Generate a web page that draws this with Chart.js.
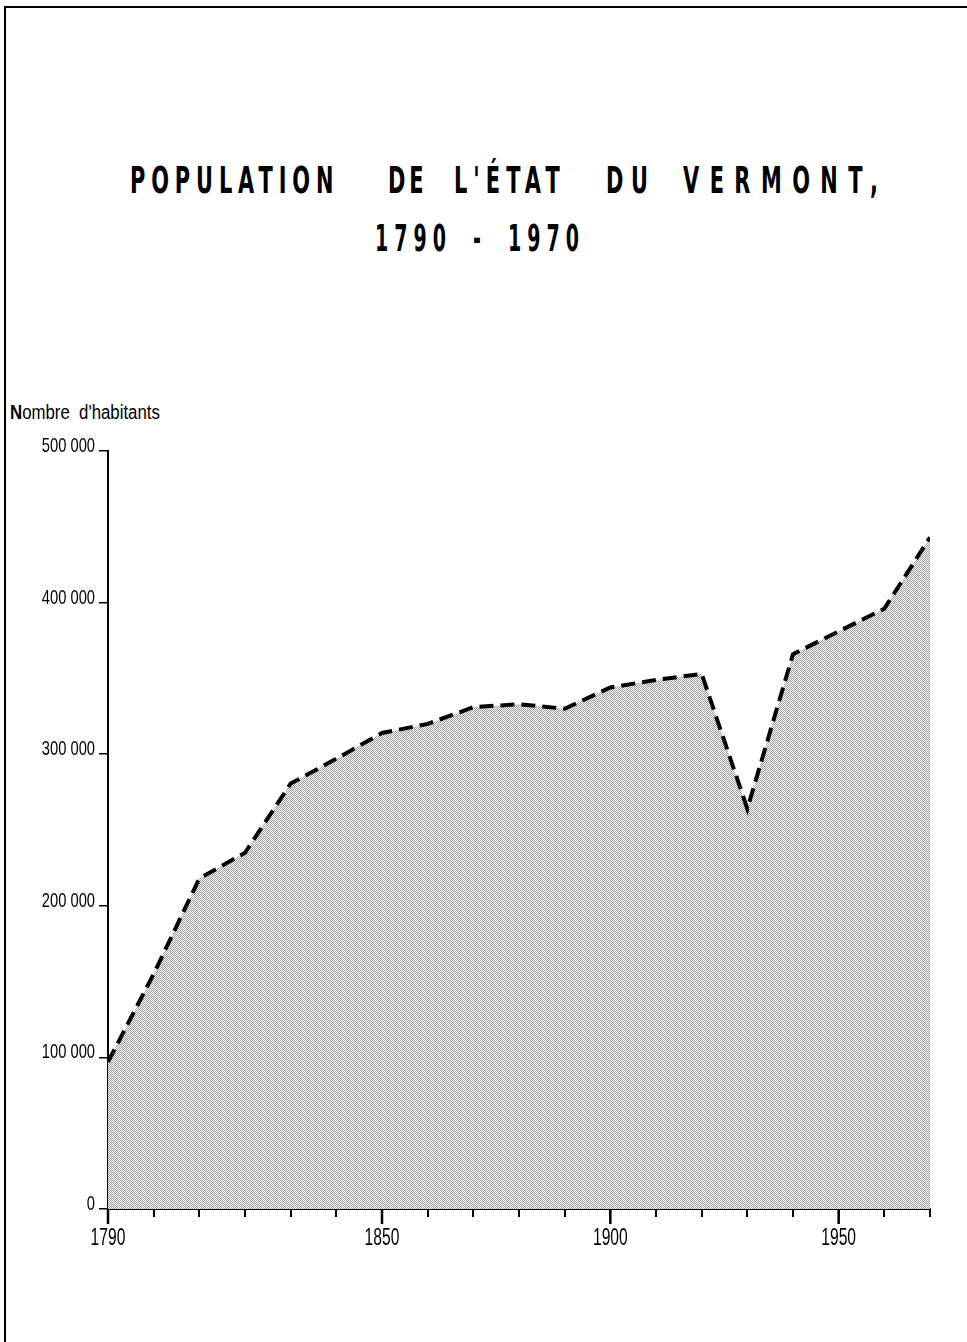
<!DOCTYPE html>
<html>
<head>
<meta charset="utf-8">
<script src="https://cdn.jsdelivr.net/npm/chart.js@4"></script>
<style>
  html, body { margin: 0; padding: 0; background: #fff; }
  #page { position: relative; width: 967px; height: 1342px; overflow: hidden; }
  #frame { position: absolute; left: 4px; top: 6px; width: 970px; height: 1345px;
           border-left: 2px solid #000; border-top: 2px solid #000; }
  .w { position: absolute; top: 161px; white-space: pre;
       font-family: "DejaVu Sans", sans-serif; font-weight: bold; font-size: 38px;
       line-height: 38px; color: #000; transform-origin: left; transform: scaleX(0.55); }
  #t2 { position: absolute; width: 2000px; text-align: center; white-space: pre;
        font-family: "DejaVu Sans", sans-serif; font-weight: bold; font-size: 38px;
        line-height: 38px; color: #000; transform-origin: center; transform: scaleX(0.5);
        letter-spacing: 12px; word-spacing: 17px; left: -520px; top: 219px; }
  #ylabel { position: absolute; left: 10px; top: 402px; white-space: pre; font-family: "Liberation Sans", sans-serif;
            font-size: 20px; line-height: 20px; transform-origin: left; transform: scaleX(0.84); }
  canvas { position: absolute; left: 0; top: 0; }
</style>
</head>
<body>
<div id="page">
  <div id="frame"></div>
  <div id="t1">
    <span class="w" style="left:130px; letter-spacing:10.7px;">POPULATION</span>
    <span class="w" style="left:388px; letter-spacing:7px;">DE</span>
    <span class="w" style="left:454px; letter-spacing:11px;">L'ÉTAT</span>
    <span class="w" style="left:606px; letter-spacing:14px;">DU</span>
    <span class="w" style="left:683px; letter-spacing:19px;">VERMONT,</span>
  </div>
  <div id="t2">1790 - 1970</div>
  <div id="ylabel"><b>N</b>ombre  d'habitants</div>
  <canvas id="chart" width="967" height="1342"></canvas>
</div>
<script>
// census years and population
const years = [1790, 1800, 1810, 1820, 1830, 1840, 1850, 1860, 1870, 1880,
               1890, 1900, 1910, 1920, 1930, 1940, 1950, 1960, 1970];
const population = [97000, 155000, 218000, 235000, 280600, 297000, 314000, 320000, 331000, 333000,
                    330000, 344000, 349000, 353000, 264000, 366000, 381000, 396000, 443000];

// tick labels
const xLabelYears = [1790, 1850, 1900, 1950];
const yTickValues = [0, 100000, 200000, 300000, 400000, 500000];
const yTickLabels = ['0', '100 000', '200 000', '300 000', '400 000', '500 000'];

// stippled grey fill
function makeStipple() {
    const c = document.createElement('canvas');
    c.width = 2;
    c.height = 2;
    const g = c.getContext('2d');
    g.fillStyle = '#f6f6f6';
    g.fillRect(0, 0, 2, 2);
    g.fillStyle = '#a0a0a0';
    g.fillRect(0, 0, 1, 1);
    g.fillRect(1, 1, 1, 1);
    return g.createPattern(c, 'repeat');
}

const ctx = document.getElementById('chart').getContext('2d');

new Chart(ctx, {
    type: 'line',
    data: {
        datasets: [{
            label: "Nombre d'habitants",
            data: years.map((y, i) => ({ x: y, y: population[i] })),
            borderColor: '#000',
            borderWidth: 4,
            borderDash: [14, 7],
            backgroundColor: makeStipple(),
            fill: 'origin',
            tension: 0,
            pointRadius: 0
        }]
    },
    options: {
        responsive: false,
        animation: false,
        devicePixelRatio: 1,
        layout: {
            padding: { left: 0, top: 451, right: 37, bottom: 73 }
        },
        plugins: {
            legend: { display: false },
            tooltip: { enabled: false }
        },
        scales: {
            x: {
                type: 'linear',
                min: 1790,
                max: 1970,
                afterFit: function(scale) {
                    scale.height = 60;
                    scale.paddingLeft = 0;
                    scale.paddingRight = 0;
                },
                border: { display: true, color: '#000', width: 2 },
                grid: {
                    drawOnChartArea: false,
                    drawTicks: true,
                    tickLength: 8,
                    color: '#000',
                    lineWidth: 2
                },
                ticks: {
                    display: false,
                    stepSize: 10,
                    autoSkip: false
                }
            },
            y: {
                min: 0,
                max: 500000,
                afterFit: function(scale) {
                    scale.width = 108;
                    scale.paddingTop = 0;
                    scale.paddingBottom = 0;
                },
                border: { display: true, color: '#000', width: 2 },
                grid: {
                    drawOnChartArea: false,
                    drawTicks: true,
                    tickLength: 9,
                    color: '#000',
                    lineWidth: 1.5
                },
                ticks: {
                    display: false,
                    stepSize: 100000
                }
            }
        }
    },
    plugins: [{
        // longer tick marks under the labelled years, and condensed tick labels
        id: 'axisLabels',
        afterDraw: function(chart) {
            const c = chart.ctx;
            const xAxis = chart.scales.x;
            const yAxis = chart.scales.y;
            c.save();
            c.strokeStyle = '#000';
            c.fillStyle = '#000';
            c.lineWidth = 2.5;
            xLabelYears.forEach(function(yr) {
                const px = xAxis.getPixelForValue(yr);
                c.beginPath();
                c.moveTo(px, xAxis.top);
                c.lineTo(px, xAxis.top + 15);
                c.stroke();

                c.save();
                c.translate(px, xAxis.top + 36);
                c.scale(0.68, 1);
                c.font = "23px 'Liberation Sans', sans-serif";
                c.textAlign = 'center';
                c.textBaseline = 'alphabetic';
                c.fillText(String(yr), 0, 0);
                c.restore();
            });
            yTickValues.forEach(function(v, i) {
                const py = yAxis.getPixelForValue(v);
                c.save();
                c.translate(yAxis.right - 13, py + 1);
                c.scale(0.7, 1);
                c.font = "21px 'Liberation Sans', sans-serif";
                c.textAlign = 'right';
                c.textBaseline = 'alphabetic';
                c.fillText(yTickLabels[i], 0, 0);
                c.restore();
            });
            c.restore();
        }
    }]
});
</script>
</body>
</html>
